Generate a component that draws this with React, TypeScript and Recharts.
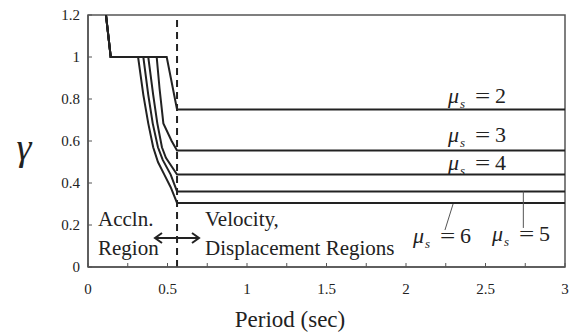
import { LineChart, Line, XAxis, YAxis, ReferenceLine, ReferenceArea, Customized } from 'recharts';

// Period (sec) breakpoints and reduction factor gamma for each ductility level
const SHARED_T = [0.113, 0.143];
const SHARED_G = [1.2, 1.0];

const MU_LEVELS = [2, 3, 4, 5, 6];
const T_MU2 = [0.495, 0.56, 3];
const G_MU2 = [1.0, 0.75, 0.75];
const T_MU3 = [0.432, 0.45, 0.474, 0.526, 0.56, 3];
const G_MU3 = [1.0, 0.85, 0.684, 0.6, 0.555, 0.555];
const T_MU4 = [0.379, 0.41, 0.436, 0.465, 0.49, 0.56, 3];
const G_MU4 = [1.0, 0.82, 0.684, 0.57, 0.52, 0.44, 0.44];
const T_MU5 = [0.348, 0.379, 0.407, 0.44, 0.47, 0.52, 0.56, 3];
const G_MU5 = [1.0, 0.82, 0.684, 0.57, 0.51, 0.44, 0.36, 0.36];
const T_MU6 = [0.315, 0.348, 0.379, 0.41, 0.44, 0.48, 0.52, 0.56, 3];
const G_MU6 = [1.0, 0.82, 0.684, 0.57, 0.5, 0.44, 0.38, 0.305, 0.305];

const BOUNDARY_T = 0.56;
const X_TICKS = [0, 0.25, 0.5, 0.75, 1, 1.25, 1.5, 1.75, 2, 2.25, 2.5, 2.75, 3];
const Y_TICKS = [0, 0.2, 0.4, 0.6, 0.8, 1, 1.2];

const build = (ts: number[], gs: number[]) =>
    [...SHARED_T, ...ts].map((t, i) => ({ t, g: [...SHARED_G, ...gs][i] }));

const series = [
    build(T_MU2, G_MU2),
    build(T_MU3, G_MU3),
    build(T_MU4, G_MU4),
    build(T_MU5, G_MU5),
    build(T_MU6, G_MU6),
];

const SERIF = 'Liberation Serif';
const INK = '#222';
const AXIS = '#555';
const f = { fontFamily: SERIF };

// mu_s = n, with a wide math-style equals sign
function MuLabel({ x, y, mu }: { x: number; y: number; mu: number }) {
    return (
        <g fill={INK}>
            <text x={x} y={y} fontSize={22} fontStyle="italic" style={f}>μ</text>
            <text x={x + 12} y={y + 5} fontSize={13} fontStyle="italic" style={f}>s</text>
            <text x={x + 27} y={y} fontSize={20} style={f} transform={`translate(${x + 27} 0) scale(1.35 1) translate(${-(x + 27)} 0)`}>=</text>
            <text x={x + 47} y={y} fontSize={22} style={f}>{mu}</text>
        </g>
    );
}

function Annotations() {
    const ay = 238;
    return (
        <g>
            <MuLabel x={448} y={103} mu={MU_LEVELS[0]} />
            <MuLabel x={448} y={142} mu={MU_LEVELS[1]} />
            <MuLabel x={448} y={170} mu={MU_LEVELS[2]} />
            <MuLabel x={492} y={241} mu={MU_LEVELS[3]} />
            <MuLabel x={413} y={243} mu={MU_LEVELS[4]} />
            <g fontSize={21} fill={INK}>
                <text x={98} y={226} style={f}>Accln.</text>
                <text x={98} y={255} style={f}>Region</text>
                <text x={205} y={226} style={f}>Velocity,</text>
                <text x={205} y={255} style={f}>Displacement Regions</text>
            </g>
            <g stroke={INK} strokeWidth={2} fill="none">
                <line x1={155} y1={ay} x2={199} y2={ay} />
                <polyline points={`${162},${ay - 5} ${155},${ay} ${162},${ay + 5}`} />
                <polyline points={`${192},${ay - 5} ${199},${ay} ${192},${ay + 5}`} />
            </g>
            <text x={290} y={327} textAnchor="middle" style={f} fontSize={23} fill={INK}>
                Period (sec)
            </text>
            <text x={24} y={160} textAnchor="middle" style={f} fontStyle="italic" fontSize={38} fill={INK}>
                γ
            </text>
        </g>
    );
}

const fmtX = (v: number) => (Math.abs((v * 2) % 1) < 1e-6 ? String(v) : '');
const fmtY = (v: number) => String(+v.toFixed(1));

const tickStyle = { fontFamily: SERIF, fontSize: 15, fill: INK };

export default function App() {
    return (
        <div style={{ position: 'absolute', left: 0, top: 0, background: '#fff' }}>
            <LineChart width={573} height={332} margin={{ top: 15, right: 8, bottom: 35, left: 0 }}>
                <XAxis
                    type="number"
                    dataKey="t"
                    domain={[0, 3]}
                    ticks={X_TICKS}
                    tickFormatter={fmtX}
                    allowDataOverflow
                    height={30}
                    tickSize={-4}
                    tickMargin={20}
                    axisLine={{ stroke: AXIS, strokeWidth: 1.5 }}
                    tickLine={{ stroke: AXIS }}
                    tick={tickStyle}
                />
                <YAxis
                    type="number"
                    domain={[0, 1.2]}
                    ticks={Y_TICKS}
                    tickFormatter={fmtY}
                    allowDataOverflow
                    width={88}
                    tickSize={-4}
                    tickMargin={12}
                    axisLine={{ stroke: AXIS, strokeWidth: 1.5 }}
                    tickLine={{ stroke: AXIS }}
                    tick={tickStyle}
                />
                <ReferenceArea x1={0} x2={3} y1={0} y2={1.2} fill="none" stroke={AXIS} strokeWidth={1.5} />
                {series.map((data, i) => (
                    <Line
                        key={MU_LEVELS[i]}
                        data={data}
                        dataKey="g"
                        type="linear"
                        stroke={INK}
                        strokeWidth={2}
                        dot={false}
                        isAnimationActive={false}
                    />
                ))}
                <ReferenceLine x={BOUNDARY_T} stroke={INK} strokeWidth={2} strokeDasharray="7 5" />
                <ReferenceLine segment={[{ x: 2.296, y: 0.3 }, { x: 2.245, y: 0.176 }]} stroke={AXIS} strokeWidth={1} />
                <ReferenceLine segment={[{ x: 2.738, y: 0.36 }, { x: 2.738, y: 0.186 }]} stroke={AXIS} strokeWidth={1} />
                <Customized component={Annotations} />
            </LineChart>
        </div>
    );
}
